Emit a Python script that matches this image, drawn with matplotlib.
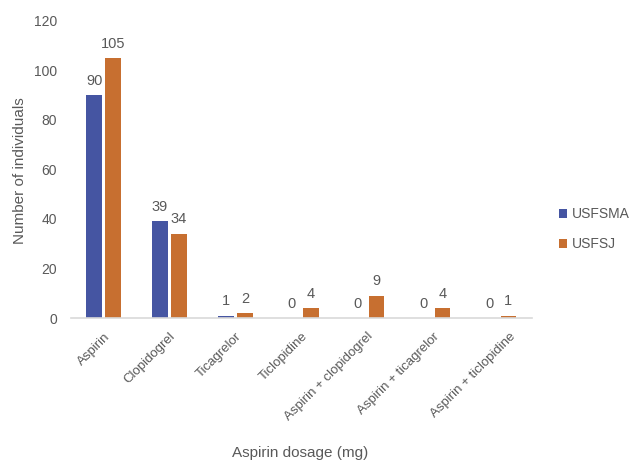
import matplotlib
matplotlib.use("Agg")
import matplotlib.pyplot as plt
import matplotlib.transforms as mtransforms
import numpy as np

categories = ["Aspirin", "Clopidogrel", "Ticagrelor", "Ticlopidine",
              "Aspirin + clopidogrel", "Aspirin + ticagrelor", "Aspirin + ticlopidine"]
usfsma = [90, 39, 1, 0, 0, 0, 0]
usfsj = [105, 34, 2, 4, 9, 4, 1]
series_names = ["USFSMA", "USFSJ"]
y_ticks = [0, 20, 40, 60, 80, 100, 120]

plt.rcParams["font.family"] = ["Liberation Sans", "DejaVu Sans"]
text_color = "#595959"
colors = ["#4555A2", "#C76F30"]

fig = plt.figure(figsize=(6.43, 4.63), dpi=100)
ax = fig.add_axes([0.110, 0.313, 0.717, 0.642])

x = np.arange(len(categories))
w = 0.235
off = 0.145
b1 = ax.bar(x - off, usfsma, w, color=colors[0], label=series_names[0])
b2 = ax.bar(x + off, usfsj, w, color=colors[1], label=series_names[1])

for bars, vals in ((b1, usfsma), (b2, usfsj)):
    for rect, v in zip(bars, vals):
        ax.text(rect.get_x() + rect.get_width() / 2, v + 3, str(v),
                ha="center", va="bottom", fontsize=10.5, color=text_color)

ax.set_xlim(-0.5, len(categories) - 0.5)
ax.set_ylim(0, 120)
ax.set_yticks(y_ticks)
ax.set_xticks(x)
ax.set_xticklabels(categories, rotation=45, ha="right", rotation_mode="anchor")
ax.tick_params(axis="both", length=0, colors=text_color, labelsize=9.5)
ax.tick_params(axis="x", pad=9)
ax.tick_params(axis="y", pad=10, labelsize=10)

# the last category label sits a little further right
last = ax.get_xticklabels()[-1]
last.set_transform(last.get_transform() +
                   mtransforms.ScaledTranslation(0.11, 0, fig.dpi_scale_trans))

for s in ("top", "right", "left"):
    ax.spines[s].set_visible(False)
ax.spines["bottom"].set_color("#D9D9D9")
ax.spines["bottom"].set_linewidth(1.2)

fig.text(0.031, 0.632, "Number of individuals", rotation=90, ha="center",
         va="center", fontsize=11, color=text_color)
fig.text(0.467, 0.022, "Aspirin dosage (mg)", ha="center", va="center",
         fontsize=11, color=text_color)

leg = fig.legend(handles=[b1, b2], labels=series_names, loc="center left",
                 bbox_to_anchor=(0.850, 0.505), frameon=False, fontsize=10,
                 handlelength=0.6, handleheight=0.6, handletextpad=0.3,
                 labelspacing=1.15)
for t in leg.get_texts():
    t.set_color(text_color)

fig.savefig("out.png", dpi=100)
